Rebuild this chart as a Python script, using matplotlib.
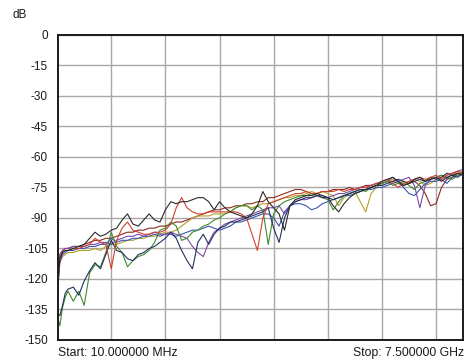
import matplotlib
matplotlib.use("Agg")
import matplotlib.pyplot as plt

# frequency grid (GHz)
freq_ghz = [0.01, 0.05, 0.1, 0.15, 0.2, 0.3, 0.4, 0.5, 0.6, 0.7, 0.8, 0.9,
            1.0, 1.1, 1.2, 1.3, 1.4, 1.5, 1.6, 1.7, 1.8, 1.9,
            2.0, 2.1, 2.2, 2.3, 2.4, 2.5, 2.6, 2.7, 2.8, 2.9,
            3.0, 3.1, 3.2, 3.3, 3.4, 3.5, 3.6, 3.7, 3.8, 3.9,
            4.0, 4.1, 4.2, 4.3, 4.4, 4.5, 4.6, 4.7, 4.8, 4.9,
            5.0, 5.1, 5.2, 5.3, 5.4, 5.5, 5.6, 5.7, 5.8, 5.9,
            6.0, 6.1, 6.2, 6.3, 6.4, 6.5, 6.6, 6.7, 6.8, 6.9,
            7.0, 7.1, 7.2, 7.3, 7.4, 7.5]

# traces in dB
black = [-123, -110, -107, -106, -106, -105, -104, -103, -100, -97, -99, -98,
         -96, -95, -91, -88, -93, -94, -91, -88, -91, -92,
         -86, -82, -83, -82, -82, -81, -80, -80, -82, -86,
         -82, -85, -87, -88, -89, -90, -88, -84, -77, -82,
         -85, -88, -96, -84, -81, -80, -79, -79, -78, -79,
         -80, -84, -87, -83, -80, -78, -77, -76, -75, -74,
         -72, -71, -70, -72, -74, -73, -71, -70, -72, -71,
         -70, -72, -70, -69, -68, -69]
red = [-125, -110, -107, -106, -106, -105, -105, -104, -103, -100, -102, -103,
       -115, -101, -95, -92, -96, -97, -98, -98, -97, -97,
       -96, -93, -85, -80, -85, -87, -88, -88, -87, -87,
       -87, -87, -87, -87, -88, -90, -98, -106, -90, -83,
       -82, -81, -80, -79, -78, -78, -77, -78, -78, -77,
       -77, -77, -76, -77, -76, -76, -75, -75, -74, -73,
       -72, -71, -73, -75, -73, -72, -71, -70, -71, -70,
       -69, -71, -69, -68, -67, -68]
green = [-139, -143, -134, -129, -126, -131, -126, -133, -117, -113, -114, -107,
         -97, -104, -107, -114, -111, -109, -108, -106, -102, -96,
         -95, -92, -94, -101, -100, -97, -96, -94, -93, -91,
         -90, -88, -87, -85, -84, -84, -86, -84, -86, -103,
         -88, -84, -82, -81, -80, -79, -79, -78, -79, -80,
         -81, -86, -82, -79, -78, -77, -76, -77, -75, -74,
         -73, -72, -74, -73, -72, -74, -76, -73, -72, -71,
         -70, -69, -70, -71, -69, -68]
navy = [-137, -138, -133, -127, -125, -124, -128, -121, -116, -112, -115, -108,
        -101, -106, -107, -110, -111, -108, -107, -105, -104, -102,
        -100, -97, -100, -106, -111, -115, -102, -98, -103, -98,
        -95, -94, -92, -92, -91, -90, -89, -88, -87, -85,
        -95, -102, -90, -84, -82, -81, -80, -80, -79, -80,
        -80, -81, -80, -79, -78, -77, -76, -76, -75, -74,
        -74, -73, -72, -71, -72, -73, -72, -71, -72, -70,
        -71, -70, -68, -69, -70, -68]
purple = [-121, -108, -106, -105, -105, -104, -104, -104, -103, -103, -102, -102,
          -103, -101, -100, -99, -99, -98, -99, -98, -97, -98,
          -98, -97, -98, -99, -100, -104, -107, -109, -102, -97,
          -95, -93, -92, -91, -90, -89, -88, -87, -86, -85,
          -85, -84, -88, -84, -82, -81, -81, -80, -79, -79,
          -80, -79, -78, -78, -77, -76, -75, -75, -74, -73,
          -73, -72, -70, -72, -71, -70, -74, -85, -74, -71,
          -70, -69, -71, -68, -67, -66]
olive = [-124, -112, -109, -108, -107, -107, -106, -106, -106, -105, -106, -104,
         -103, -103, -102, -101, -101, -100, -100, -99, -99, -98,
         -97, -97, -96, -94, -92, -90, -89, -89, -89, -88,
         -88, -88, -87, -85, -84, -84, -85, -84, -83, -83,
         -82, -81, -80, -80, -79, -79, -78, -77, -78, -77,
         -78, -79, -84, -80, -78, -77, -82, -87, -78, -75,
         -73, -72, -71, -72, -73, -72, -71, -72, -74, -73,
         -71, -70, -69, -68, -68, -67]
darkred = [-122, -108, -106, -105, -105, -104, -104, -103, -102, -101, -101, -100,
           -100, -99, -98, -97, -97, -96, -96, -95, -95, -94,
           -94, -93, -92, -92, -91, -90, -89, -88, -87, -86,
           -86, -85, -85, -84, -84, -83, -83, -82, -82, -80,
           -80, -79, -78, -77, -76, -76, -77, -78, -78, -77,
           -77, -76, -76, -76, -75, -76, -75, -74, -74, -73,
           -73, -72, -72, -73, -74, -73, -72, -74, -78, -84,
           -83, -75, -71, -70, -68, -69]
blue = [-126, -112, -108, -107, -106, -106, -105, -105, -104, -104, -103, -103,
        -100, -102, -101, -101, -100, -100, -99, -99, -98, -99,
        -98, -98, -99, -98, -97, -96, -96, -95, -94, -95,
        -96, -95, -94, -92, -92, -91, -90, -89, -88, -88,
        -90, -94, -87, -84, -83, -83, -84, -86, -85, -83,
        -82, -81, -80, -79, -79, -78, -77, -76, -76, -75,
        -75, -74, -73, -72, -75, -78, -79, -76, -73, -72,
        -72, -71, -73, -70, -69, -68]

y_ticks = [0, -15, -30, -45, -60, -75, -90, -105, -120, -135, -150]
x_grid = [1, 2, 3, 4, 5, 6, 7]

traces = [
    (darkred, "#8c2a20"),
    (olive, "#b5a22a"),
    (blue, "#3a55b0"),
    (purple, "#7a4aa8"),
    (green, "#3f8a2e"),
    (navy, "#24305e"),
    (red, "#d2402c"),
    (black, "#2a2a2a"),
]

plt.rcParams["font.family"] = ["Liberation Sans", "DejaVu Sans"]

fig = plt.figure(figsize=(4.65, 3.64), dpi=100)
ax = fig.add_axes([0.124, 0.066, 0.872, 0.838])

for vals, col in traces:
    ax.plot(freq_ghz, vals, color=col, lw=0.8)

ax.set_xlim(0.01, 7.5)
ax.set_ylim(-150, 0)
ax.set_yticks(y_ticks)
ax.set_yticklabels([str(v) for v in y_ticks], fontsize=8.5, color="#1a1a1a")
ax.set_xticks(x_grid)
ax.set_xticklabels([])
ax.tick_params(length=0, pad=7)
ax.grid(True, color="#aca6a4", lw=1.0)
ax.set_axisbelow(True)
for sp in ax.spines.values():
    sp.set_color("#1a1a1a")
    sp.set_linewidth(1.4)

fig.text(0.026, 0.958, "dB", fontsize=8.5, va="center", ha="left", color="#1a1a1a")
fig.text(0.125, 0.03, "Start: 10.000000 MHz", fontsize=8.8, va="center", ha="left", color="#1a1a1a")
fig.text(0.998, 0.03, "Stop: 7.500000 GHz", fontsize=8.8, va="center", ha="right", color="#1a1a1a")

fig.savefig("out.png", dpi=100)
